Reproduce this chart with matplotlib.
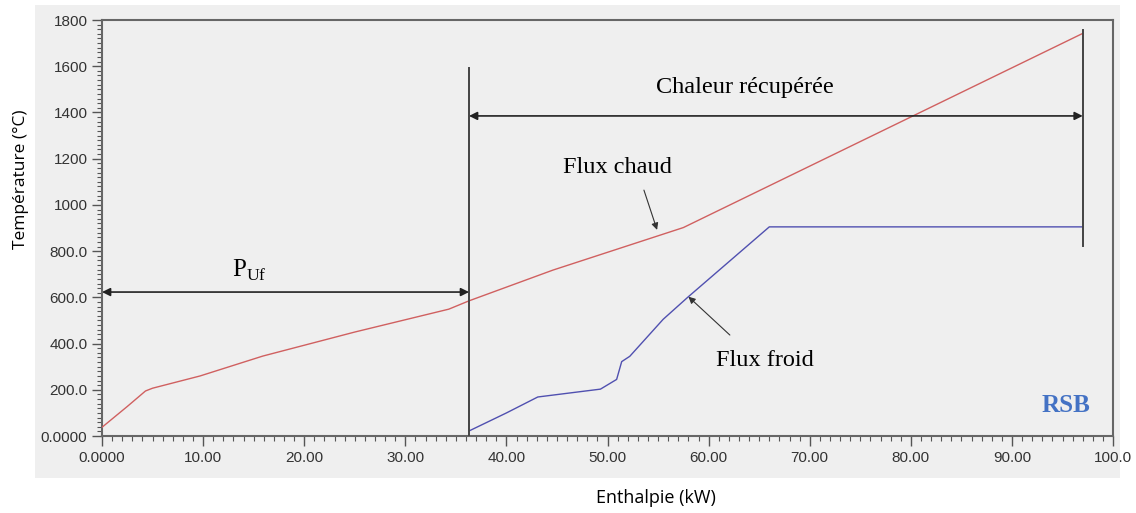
import numpy as np
import matplotlib.pyplot as plt
from matplotlib.patches import Rectangle
from matplotlib.ticker import FixedLocator, MultipleLocator

# courbes composites (enthalpie kW, temperature °C)
hot_h = [0.0, 2.5, 4.3, 5.0, 9.7, 15.9, 25.0, 34.3, 36.3, 44.6, 57.5, 97.0]
hot_t = [38, 128, 195, 207, 260, 346, 450, 549, 585, 718, 902, 1742]
cold_h = [36.3, 40.0, 43.1, 49.3, 50.9, 51.4, 52.2, 55.5, 58.0, 66.0, 97.0]
cold_t = [22, 100, 169, 203, 245, 322, 345, 505, 603, 905, 905]

x_ticks = [0, 10, 20, 30, 40, 50, 60, 70, 80, 90, 100]
x_labels = ["0.0000", "10.00", "20.00", "30.00", "40.00", "50.00", "60.00",
            "70.00", "80.00", "90.00", "100.0"]
y_ticks = [0, 200, 400, 600, 800, 1000, 1200, 1400, 1600, 1800]
y_labels = ["0.0000", "200.0", "400.0", "600.0", "800.0", "1000", "1200",
            "1400", "1600", "1800"]

pinch_h = 36.3
end_h = 97.0

fig = plt.figure(figsize=(11.36, 5.13), dpi=100)
fig.patch.set_facecolor("white")
fig.patches.append(Rectangle((0.031, 0.068), 0.955, 0.922, transform=fig.transFigure,
                             facecolor="#efefef", edgecolor="none", zorder=-10))

ax = fig.add_axes([0.0898, 0.150, 0.890, 0.811])
ax.set_facecolor("#efefef")

ax.plot(hot_h, hot_t, color="#d06060", lw=1.0, zorder=3)
ax.plot(cold_h, cold_t, color="#5050b0", lw=1.0, zorder=3)

# traits verticaux
ax.plot([pinch_h, pinch_h], [0, 1592], color="#444444", lw=1.4, zorder=4)
ax.plot([end_h, end_h], [822, 1757], color="#444444", lw=1.4, zorder=4)

arrow = dict(arrowstyle="<|-|>", color="#222222", lw=1.2, mutation_scale=12,
             shrinkA=0, shrinkB=0)
ax.annotate("", xy=(0, 623), xytext=(pinch_h, 623), arrowprops=arrow)
ax.annotate("", xy=(pinch_h, 1385), xytext=(end_h, 1385), arrowprops=arrow)

serif = "Liberation Serif"
ax.text(14.6, 715, r"P$_{\mathregular{Uf}}$", family=serif, fontsize=18,
        ha="center", va="center")
ax.text(63.6, 1506, "Chaleur récupérée", family=serif, fontsize=17.5,
        ha="center", va="center")
ax.text(51.0, 1160, "Flux chaud", family=serif, fontsize=17.5,
        ha="center", va="center")
ax.text(65.6, 329, "Flux froid", family=serif, fontsize=17.5,
        ha="center", va="center")
ax.text(95.3, 134, "RSB", family=serif, fontsize=18, fontweight="bold",
        color="#4472c4", ha="center", va="center")

thin = dict(arrowstyle="-|>", color="#333333", lw=0.8, mutation_scale=10,
            shrinkA=0, shrinkB=0)
ax.annotate("", xy=(54.9, 892), xytext=(53.6, 1064), arrowprops=thin)
ax.annotate("", xy=(58.0, 603), xytext=(62.1, 437), arrowprops=thin)

ax.set_xlim(0, 100)
ax.set_ylim(0, 1800)
ax.xaxis.set_major_locator(FixedLocator(x_ticks))
ax.set_xticklabels(x_labels)
ax.yaxis.set_major_locator(FixedLocator(y_ticks))
ax.set_yticklabels(y_labels)
ax.xaxis.set_minor_locator(MultipleLocator(1))
ax.yaxis.set_minor_locator(MultipleLocator(20))
ax.tick_params(which="major", direction="out", length=7, width=1,
               color="#555555", labelsize=11, labelcolor="#333333")
ax.tick_params(which="minor", direction="out", length=3.5, width=0.8,
               color="#555555")
for lab in ax.get_xticklabels() + ax.get_yticklabels():
    lab.set_family("Liberation Sans")
for s in ax.spines.values():
    s.set_color("#666666")
    s.set_linewidth(1.5)

fig.text(0.0185, 0.651, "Température (°C)", family="Open Sans", fontsize=12.5,
         rotation=90, ha="center", va="center")
fig.text(0.577, 0.030, "Enthalpie (kW)", family="Open Sans", fontsize=13,
         ha="center", va="center")

fig.savefig("out.png", dpi=100)
